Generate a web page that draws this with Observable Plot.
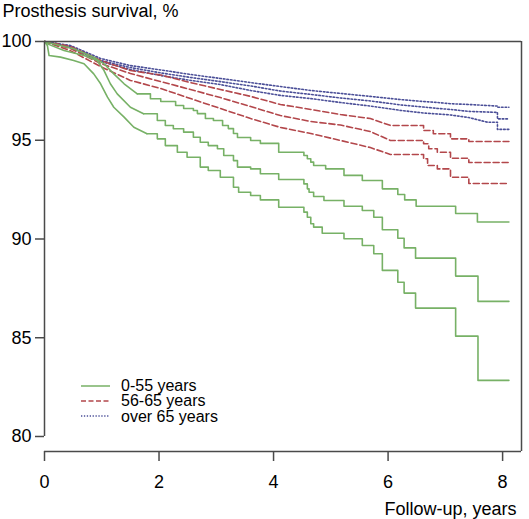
<!DOCTYPE html>
<html>
<head>
<meta charset="utf-8">
<script src="https://cdn.jsdelivr.net/npm/d3@7"></script>
<script src="https://cdn.jsdelivr.net/npm/@observablehq/plot@0.6"></script>
<style>
  body { margin: 0; background: #fff; font-family: "Liberation Sans", Arial, sans-serif; }
  #wrap { position: relative; width: 529px; height: 519px; }
  #legend { position: absolute; left: 81px; top: 378px; font-size: 16px; color: #000; }
  #legend .row { display: flex; align-items: center; height: 15.3px; line-height: 15.3px; white-space: nowrap; }
  #legend svg { width: 29px; height: 4px; margin-right: 11px; overflow: visible; }
</style>
</head>
<body>
<div id="wrap"></div>
<script>
// ---- text ----
const titleText = ["Prosthesis survival, %"];
const xLabelText = ["Follow-up, years"];
const groups = ["0-55 years", "56-65 years", "over 65 years"];
const xTicks = [0, 2, 4, 6, 8];
const yTicks = [80, 85, 90, 95, 100];

// ---- 0-55 years: [years, survival %] (upper CI, estimate, lower CI); repeated years = vertical step ----
const young_upper = [[0,100],[0.2,99.85],[0.51,99.63],[0.86,99.20],[1.04,98.87],[1.21,98.36],[1.39,97.86],[1.62,97.35],[1.85,97.10],[2.03,96.96],[2.29,96.76],[2.43,96.61],[2.60,96.51],[2.67,96.35],[2.81,96.10],[2.95,96.00],[3.11,95.75],[3.21,95.59],[3.30,95.34],[3.37,95.14],[3.60,94.99],[3.77,94.84],[4.09,94.68],[4.09,94.39],[4.53,94.39],[4.53,94.23],[4.59,94.23],[4.59,94.06],[4.65,94.06],[4.65,93.89],[4.70,93.89],[4.70,93.72],[4.91,93.72],[4.91,93.55],[5.23,93.55],[5.23,93.22],[5.55,93.22],[5.55,92.96],[5.90,92.96],[5.90,92.54],[6.17,92.54],[6.17,92.25],[6.29,92.25],[6.29,91.98],[6.49,91.98],[6.49,91.66],[7.18,91.66],[7.18,91.29],[7.56,91.29],[7.56,90.86],[8.11,90.86]];
const young_est = [[0,100],[0.05,99.88],[0.34,99.54],[0.69,99.29],[0.92,99.04],[1.04,98.53],[1.15,97.86],[1.27,97.35],[1.50,96.67],[1.73,96.34],[1.97,96.00],[2.11,95.75],[2.25,95.58],[2.43,95.41],[2.60,95.15],[2.72,94.90],[2.86,94.73],[3.02,94.57],[3.13,94.23],[3.30,93.97],[3.37,93.64],[3.60,93.55],[3.77,93.30],[4.09,93.30],[4.09,93.01],[4.53,93.01],[4.53,92.79],[4.59,92.79],[4.59,92.54],[4.62,92.54],[4.62,92.37],[4.70,92.37],[4.70,92.15],[4.88,92.15],[4.88,91.95],[5.23,91.95],[5.23,91.66],[5.55,91.66],[5.55,91.44],[5.75,91.44],[5.75,91.10],[5.90,91.10],[5.90,90.47],[6.17,90.47],[6.17,90.04],[6.28,90.04],[6.28,89.55],[6.48,89.55],[6.48,89.03],[7.18,89.03],[7.18,88.12],[7.57,88.12],[7.57,86.84],[8.11,86.84]];
const young_lower = [[0,100],[0.05,99.80],[0.08,99.29],[0.28,99.21],[0.51,99.04],[0.69,98.87],[0.86,98.36],[0.98,97.86],[1.10,97.18],[1.21,96.67],[1.39,96.17],[1.56,95.66],[1.79,95.33],[1.97,95.07],[2.11,94.73],[2.32,94.39],[2.49,94.14],[2.72,93.64],[2.86,93.47],[3.07,93.13],[3.30,92.62],[3.39,92.37],[3.60,92.20],[3.77,91.98],[4.09,91.98],[4.09,91.61],[4.53,91.61],[4.53,91.36],[4.59,91.36],[4.59,91.10],[4.65,91.10],[4.65,90.77],[4.70,90.77],[4.70,90.60],[4.85,90.60],[4.85,90.29],[5.23,90.29],[5.23,90.01],[5.55,90.01],[5.55,89.67],[5.75,89.67],[5.75,89.25],[5.90,89.25],[5.90,88.41],[6.17,88.41],[6.17,87.81],[6.28,87.81],[6.28,87.26],[6.48,87.26],[6.48,86.50],[7.18,86.50],[7.18,85.08],[7.57,85.08],[7.57,82.84],[8.11,82.84]];

// ---- 56-65 years ----
const mid_upper = [[0,100],[0.45,99.75],[0.98,99.04],[1.50,98.53],[2.03,98.30],[2.55,97.92],[3.07,97.57],[3.60,97.22],[4.12,96.81],[4.65,96.56],[5.17,96.30],[5.69,96.10],[6.04,95.75],[6.62,95.75],[6.62,95.49],[6.79,95.49],[6.79,95.33],[7.09,95.33],[7.09,95.07],[7.41,95.07],[7.41,94.94],[8.11,94.94]];
const mid_est = [[0,100],[0.45,99.65],[0.98,98.89],[1.50,98.38],[2.03,97.97],[2.55,97.57],[3.07,97.16],[3.60,96.71],[4.12,96.25],[4.65,95.95],[5.17,95.77],[5.69,95.44],[6.04,94.99],[6.62,94.99],[6.62,94.82],[6.71,94.82],[6.71,94.57],[6.86,94.57],[6.86,94.39],[7.09,94.39],[7.09,94.09],[7.41,94.09],[7.41,93.87],[8.11,93.87]];
const mid_lower = [[0,100],[0.45,99.54],[0.98,98.73],[1.50,98.03],[2.03,97.62],[2.55,97.11],[3.07,96.61],[3.60,96.10],[4.12,95.65],[4.65,95.34],[5.17,94.99],[5.69,94.63],[6.04,94.28],[6.62,94.28],[6.62,94.06],[6.69,94.06],[6.69,93.72],[6.86,93.72],[6.86,93.55],[7.09,93.55],[7.09,93.13],[7.41,93.13],[7.41,92.81],[8.11,92.81]];

// ---- over 65 years ----
const old_upper = [[0,100],[0.45,99.80],[0.98,99.14],[1.50,98.78],[2.03,98.56],[2.55,98.33],[3.07,98.13],[3.60,97.92],[4.12,97.72],[4.65,97.52],[5.17,97.37],[5.69,97.22],[6.22,97.06],[6.62,96.96],[6.87,96.91],[7.09,96.85],[7.41,96.81],[7.91,96.73],[7.91,96.67],[8.11,96.67]];
const old_est = [[0,100],[0.45,99.75],[0.98,99.04],[1.50,98.68],[2.03,98.41],[2.55,98.18],[3.07,97.97],[3.60,97.75],[4.12,97.49],[4.65,97.32],[5.17,97.14],[5.69,96.99],[6.22,96.79],[6.62,96.68],[6.87,96.61],[7.09,96.56],[7.41,96.46],[7.91,96.41],[7.91,96.08],[8.11,96.08]];
const old_lower = [[0,100],[0.45,99.70],[0.98,98.99],[1.50,98.58],[2.03,98.28],[2.55,98.03],[3.07,97.82],[3.60,97.52],[4.12,97.27],[4.65,97.11],[5.17,96.91],[5.69,96.73],[6.22,96.51],[6.62,96.38],[6.87,96.33],[7.09,96.28],[7.41,96.15],[7.74,95.91],[7.91,95.91],[7.91,95.55],[8.11,95.55]];

// ---- layout / style (not data) ----
const xDomain = [0, 8.33];
const yDomain = [79.24, 100];
const colors = ["#77b166", "#b3474b", "#4b4f98"];
const dashes = [null, "6,3", "1.6,2"];
const legendDashes = [null, "5,2.5", "1.3,1.6"];
const axisColor = "#4a4a4a";
const stairFrom = 1.8; // green curves drawn as stairs after this time

const series = [
  [0, "upper", young_upper], [0, "est", young_est], [0, "lower", young_lower],
  [1, "upper", mid_upper], [1, "est", mid_est], [1, "lower", mid_lower],
  [2, "upper", old_upper], [2, "est", old_est], [2, "lower", old_lower]
];

const lineMarks = [];
for (const gi of [2, 1, 0]) {
  for (const [g, band, pts] of series) {
    if (g !== gi) continue;
    const rows = pts.map(([t, s]) => ({t, s}));
    const style = {x: "t", y: "s", stroke: colors[gi], strokeWidth: 1.6, strokeDasharray: dashes[gi]};
    if (gi === 0) {
      let k = 0;
      rows.forEach((d, j) => { if (d.t <= stairFrom) k = j; });
      lineMarks.push(Plot.line(rows.slice(0, k + 1), {...style, curve: "linear"}));
      lineMarks.push(Plot.line(rows.slice(k), {...style, curve: "step-after"}));
    } else {
      lineMarks.push(Plot.line(rows, {...style, curve: "linear"}));
    }
  }
}

const chart = Plot.plot({
  width: 529,
  height: 519,
  marginLeft: 44,
  marginRight: 8,
  marginTop: 41,
  marginBottom: 68,
  style: {fontFamily: "'Liberation Sans', Arial, sans-serif", fontSize: "18px", background: "white", overflow: "visible"},
  x: {domain: xDomain, label: null},
  y: {domain: yDomain, label: null},
  marks: [
    ...lineMarks,
    Plot.ruleY([yDomain[1]], {x1: xDomain[0], x2: xDomain[1], stroke: axisColor, strokeWidth: 1.5}),
    Plot.ruleY([yDomain[0]], {x1: xDomain[0], x2: xDomain[1], stroke: axisColor, strokeWidth: 1.5}),
    Plot.ruleX([xDomain[1]], {y1: yDomain[0], y2: yDomain[1], stroke: axisColor, strokeWidth: 1.5}),
    Plot.ruleX([xDomain[0]], {y1: yTicks[0], y2: yTicks[yTicks.length - 1], stroke: axisColor, strokeWidth: 1.5}),
    Plot.axisX(xTicks, {tickSize: 10, tickPadding: 14, stroke: axisColor, strokeWidth: 1.5, fill: "black", fontSize: 18, label: null}),
    Plot.axisY(yTicks, {tickSize: 9, tickPadding: 4, stroke: axisColor, strokeWidth: 1.5, fill: "black", fontSize: 18, label: null}),
    Plot.text(titleText, {text: d => d, frameAnchor: "top-left", textAnchor: "start", lineAnchor: "bottom", dx: -42, dy: -25, fontSize: 18, fill: "black"}),
    Plot.text(xLabelText, {text: d => d, frameAnchor: "bottom-right", textAnchor: "end", lineAnchor: "bottom", dx: -5, dy: 63, fontSize: 18, fill: "black"})
  ]
});

const wrap = document.getElementById("wrap");
wrap.appendChild(chart);

// legend
const legend = document.createElement("div");
legend.id = "legend";
groups.forEach((g, i) => {
  const row = document.createElement("div");
  row.className = "row";
  const ns = "http://www.w3.org/2000/svg";
  const svg = document.createElementNS(ns, "svg");
  svg.setAttribute("width", "29");
  svg.setAttribute("height", "4");
  const ln = document.createElementNS(ns, "line");
  ln.setAttribute("x1", "0"); ln.setAttribute("x2", "29");
  ln.setAttribute("y1", "2"); ln.setAttribute("y2", "2");
  ln.setAttribute("stroke", colors[i]);
  ln.setAttribute("stroke-width", "1.5");
  if (legendDashes[i]) ln.setAttribute("stroke-dasharray", legendDashes[i]);
  svg.appendChild(ln);
  row.appendChild(svg);
  const span = document.createElement("span");
  span.textContent = g;
  row.appendChild(span);
  legend.appendChild(row);
});
wrap.appendChild(legend);
</script>
</body>
</html>
